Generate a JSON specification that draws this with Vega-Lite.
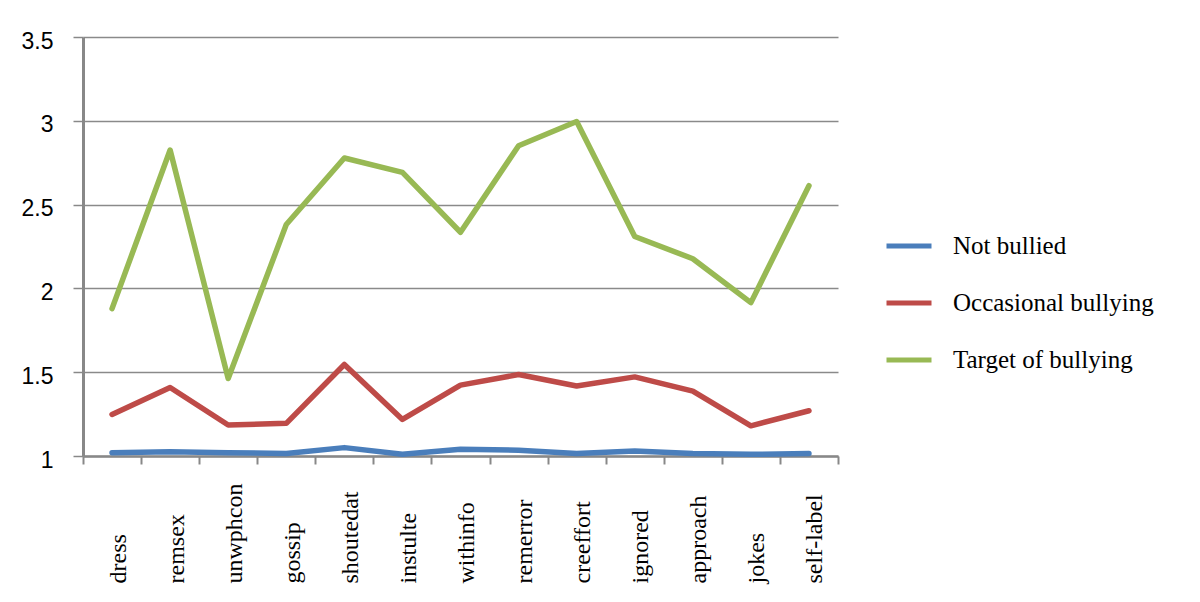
{
  "$schema": "https://vega.github.io/schema/vega-lite/v6.json",
  "width": 755,
  "height": 419,
  "autosize": {"type": "none"},
  "padding": {"left": 83, "top": 37, "right": 362, "bottom": 146},
  "background": "white",
  "data": {
    "values": [
      {"item": "dress", "group": "Not bullied", "value": 1.02},
      {"item": "remsex", "group": "Not bullied", "value": 1.025},
      {"item": "unwphcon", "group": "Not bullied", "value": 1.02},
      {"item": "gossip", "group": "Not bullied", "value": 1.015},
      {"item": "shoutedat", "group": "Not bullied", "value": 1.05},
      {"item": "instulte", "group": "Not bullied", "value": 1.01},
      {"item": "withinfo", "group": "Not bullied", "value": 1.04},
      {"item": "remerror", "group": "Not bullied", "value": 1.035},
      {"item": "creeffort", "group": "Not bullied", "value": 1.015},
      {"item": "ignored", "group": "Not bullied", "value": 1.03},
      {"item": "approach", "group": "Not bullied", "value": 1.015},
      {"item": "jokes", "group": "Not bullied", "value": 1.01},
      {"item": "self-label", "group": "Not bullied", "value": 1.015},
      {"item": "dress", "group": "Occasional bullying", "value": 1.248},
      {"item": "remsex", "group": "Occasional bullying", "value": 1.409},
      {"item": "unwphcon", "group": "Occasional bullying", "value": 1.185},
      {"item": "gossip", "group": "Occasional bullying", "value": 1.195},
      {"item": "shoutedat", "group": "Occasional bullying", "value": 1.546},
      {"item": "instulte", "group": "Occasional bullying", "value": 1.218},
      {"item": "withinfo", "group": "Occasional bullying", "value": 1.423},
      {"item": "remerror", "group": "Occasional bullying", "value": 1.486},
      {"item": "creeffort", "group": "Occasional bullying", "value": 1.418},
      {"item": "ignored", "group": "Occasional bullying", "value": 1.472},
      {"item": "approach", "group": "Occasional bullying", "value": 1.387},
      {"item": "jokes", "group": "Occasional bullying", "value": 1.18},
      {"item": "self-label", "group": "Occasional bullying", "value": 1.27},
      {"item": "dress", "group": "Target of bullying", "value": 1.879},
      {"item": "remsex", "group": "Target of bullying", "value": 2.826},
      {"item": "unwphcon", "group": "Target of bullying", "value": 1.462},
      {"item": "gossip", "group": "Target of bullying", "value": 2.381},
      {"item": "shoutedat", "group": "Target of bullying", "value": 2.778},
      {"item": "instulte", "group": "Target of bullying", "value": 2.692},
      {"item": "withinfo", "group": "Target of bullying", "value": 2.335},
      {"item": "remerror", "group": "Target of bullying", "value": 2.851},
      {"item": "creeffort", "group": "Target of bullying", "value": 2.996},
      {"item": "ignored", "group": "Target of bullying", "value": 2.31},
      {"item": "approach", "group": "Target of bullying", "value": 2.177},
      {"item": "jokes", "group": "Target of bullying", "value": 1.915},
      {"item": "self-label", "group": "Target of bullying", "value": 2.613}
    ]
  },
  "mark": {"type": "line", "strokeWidth": 5.5, "strokeCap": "round", "strokeJoin": "round"},
  "encoding": {
    "x": {
      "field": "item",
      "type": "nominal",
      "sort": null,
      "scale": {"type": "band", "paddingInner": 0, "paddingOuter": 0},
      "axis": {
        "title": null,
        "tickBand": "extent",
        "grid": false,
        "domainColor": "#888888",
        "domainWidth": 2.5,
        "tickColor": "#888888",
        "tickWidth": 2,
        "tickSize": 8,
        "labelAngle": 270,
        "labelAlign": "left",
        "labelBaseline": "middle",
        "labelPadding": 119,
        "labelOffset": 6,
        "labelFont": "Liberation Serif",
        "labelFontSize": 24,
        "labelColor": "#000000",
        "labelOverlap": false,
        "labelBound": false,
        "labelLimit": 300
      }
    },
    "y": {
      "field": "value",
      "type": "quantitative",
      "scale": {"domain": [1, 3.5], "nice": false, "zero": false},
      "axis": {
        "title": null,
        "values": [1, 1.5, 2, 2.5, 3, 3.5],
        "format": "~g",
        "grid": true,
        "gridColor": "#8a8a8a",
        "gridWidth": 1.5,
        "domainColor": "#888888",
        "domainWidth": 3,
        "tickColor": "#888888",
        "tickWidth": 1.5,
        "tickSize": 10,
        "labelPadding": 20,
        "labelOffset": 4,
        "labelFont": "Liberation Sans",
        "labelFontSize": 23,
        "labelColor": "#000000"
      }
    },
    "color": {
      "field": "group",
      "type": "nominal",
      "scale": {
        "domain": ["Not bullied", "Occasional bullying", "Target of bullying"],
        "range": ["#4a7ebb", "#be4b48", "#98b954"]
      },
      "legend": {
        "orient": "none",
        "legendX": 801,
        "legendY": 184,
        "title": null,
        "symbolType": "stroke",
        "symbolSize": 2025,
        "symbolStrokeWidth": 5,
        "labelFont": "Liberation Serif",
        "labelFontSize": 25,
        "labelColor": "#000000",
        "labelOffset": 19,
        "rowPadding": 19,
        "labelLimit": 300
      }
    }
  },
  "config": {"view": {"stroke": null}}
}
